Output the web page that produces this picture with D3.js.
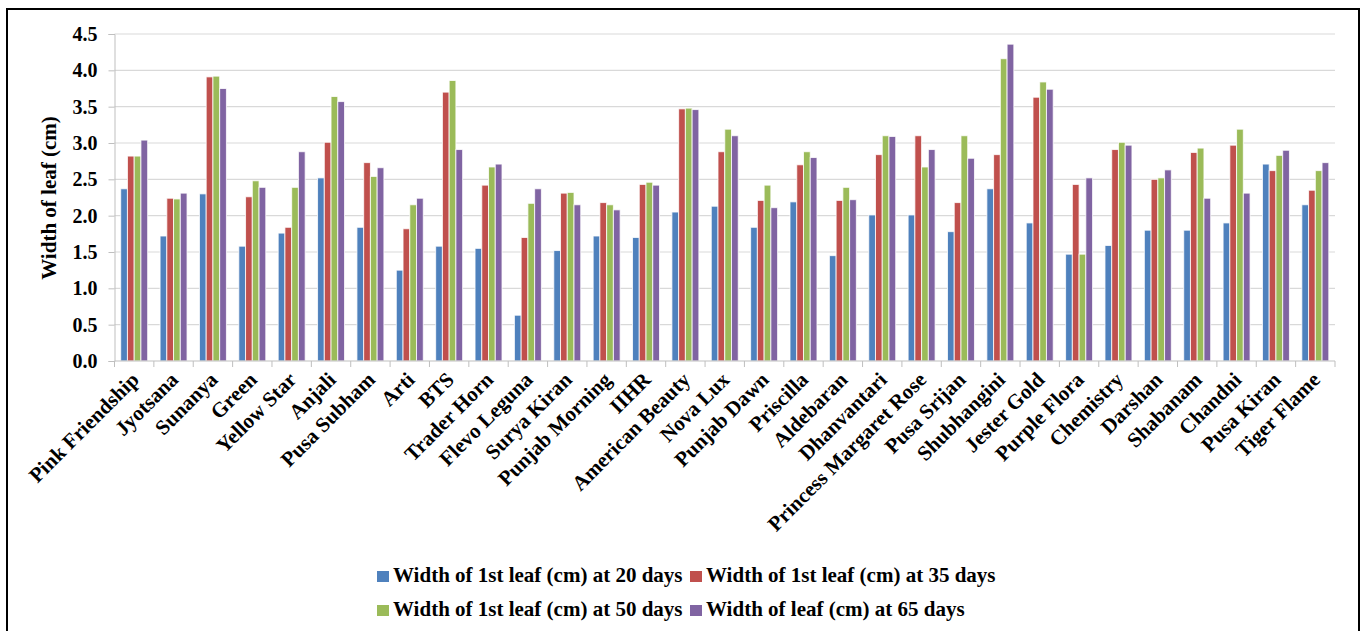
<!DOCTYPE html>
<html>
<head>
<meta charset="utf-8">
<script src="https://cdn.jsdelivr.net/npm/d3@7"></script>
<style>
  body { margin: 0; background: #fff; }
  text { font-family: "Liberation Serif", "Times New Roman", serif; font-weight: bold; fill: #000; }
</style>
</head>
<body>
<div id="chart"></div>
<script>
// Categories (rose varieties)
var varieties = ["Pink Friendship", "Jyotsana", "Sunanya", "Green", "Yellow Star", "Anjali",
    "Pusa Subham", "Arti", "BTS", "Trader Horn", "Flevo Leguna", "Surya Kiran", "Punjab Morning",
    "IIHR", "American Beauty", "Nova Lux", "Punjab Dawn", "Priscilla", "Aldebaran", "Dhanvantari",
    "Princess Margaret Rose", "Pusa Srijan", "Shubhangini", "Jester Gold", "Purple Flora",
    "Chemistry", "Darshan", "Shabanam", "Chandni", "Pusa Kiran", "Tiger Flame"];

var seriesNames = ["Width of 1st leaf (cm) at 20 days", "Width of 1st leaf (cm) at 35 days",
    "Width of 1st leaf (cm) at 50 days", "Width of leaf (cm) at 65 days"];

// Values
var days20 = [2.37, 1.72, 2.30, 1.58, 1.76, 2.52, 1.84, 1.25, 1.58, 1.55, 0.63, 1.52, 1.72,
    1.70, 2.05, 2.13, 1.84, 2.19, 1.45, 2.01, 2.01, 1.78, 2.37, 1.90, 1.47, 1.59, 1.80, 1.80,
    1.90, 2.71, 2.15];
var days35 = [2.82, 2.24, 3.91, 2.26, 1.84, 3.01, 2.73, 1.82, 3.70, 2.42, 1.70, 2.31, 2.18,
    2.43, 3.47, 2.88, 2.21, 2.70, 2.21, 2.84, 3.10, 2.18, 2.84, 3.63, 2.43, 2.91, 2.50, 2.87,
    2.97, 2.62, 2.35];
var days50 = [2.82, 2.23, 3.92, 2.48, 2.39, 3.64, 2.54, 2.15, 3.86, 2.67, 2.17, 2.32, 2.15,
    2.46, 3.48, 3.19, 2.42, 2.88, 2.39, 3.10, 2.67, 3.10, 4.16, 3.84, 1.47, 3.01, 2.52, 2.93,
    3.19, 2.83, 2.62];
var days65 = [3.04, 2.31, 3.75, 2.39, 2.88, 3.57, 2.66, 2.24, 2.91, 2.71, 2.37, 2.15, 2.08,
    2.42, 3.46, 3.10, 2.11, 2.80, 2.22, 3.09, 2.91, 2.79, 4.36, 3.74, 2.52, 2.97, 2.63, 2.24,
    2.31, 2.90, 2.73];

var yTicks = [0, 0.5, 1, 1.5, 2, 2.5, 3, 3.5, 4, 4.5];
var colors = ["#4F81BD", "#C0504D", "#9BBB59", "#8064A2"];

var allSeries = [days20, days35, days50, days65];

var svgWidth = 1362, svgHeight = 631;
var margin = { top: 34, right: 27, bottom: 270, left: 114.5 };
var chartWidth = svgWidth - margin.left - margin.right;
var chartHeight = svgHeight - margin.top - margin.bottom;

var svg = d3.select("#chart").append("svg")
    .attr("width", svgWidth)
    .attr("height", svgHeight);

// outer frame
svg.append("rect")
    .attr("x", 7).attr("y", 9)
    .attr("width", 1352).attr("height", 640)
    .attr("fill", "none")
    .attr("stroke", "#000")
    .attr("stroke-width", 2);

var chartGroup = svg.append("g")
    .attr("transform", `translate(${margin.left}, ${margin.top})`);

var x0 = d3.scaleBand().domain(varieties).range([0, chartWidth]).padding(0);
var x1 = d3.scaleBand().domain(d3.range(4))
    .range([6.2, x0.bandwidth() - 6.2]).padding(0);
var yScale = d3.scaleLinear().domain([0, 4.5]).range([chartHeight, 0]);

// gridlines
chartGroup.append("g")
    .selectAll("line")
    .data(yTicks.slice(1))
    .enter()
    .append("line")
    .attr("x1", 0).attr("x2", chartWidth)
    .attr("y1", d => yScale(d)).attr("y2", d => yScale(d))
    .attr("stroke", "#D9D9D9")
    .attr("stroke-width", 1.2);

// y axis
var yAxis = chartGroup.append("g")
    .attr("font-family", null)
    .call(d3.axisLeft(yScale).tickValues(yTicks).tickSize(6).tickPadding(11).tickFormat(d3.format(".1f")));
yAxis.attr("font-family", null);
yAxis.selectAll("path, line").attr("stroke", "#BFBFBF");
yAxis.selectAll("text").style("font-size", "20px");

// bars
var groups = chartGroup.append("g")
    .selectAll("g")
    .data(varieties)
    .enter()
    .append("g")
    .attr("transform", d => `translate(${x0(d)}, 0)`);

groups.selectAll("rect")
    .data((d, i) => allSeries.map((s, k) => ({ k: k, v: s[i] })))
    .enter()
    .append("rect")
    .attr("x", d => x1(d.k))
    .attr("y", d => yScale(d.v))
    .attr("width", x1.bandwidth())
    .attr("height", d => chartHeight - yScale(d.v))
    .attr("fill", d => colors[d.k])
    .attr("stroke", "#fff")
    .attr("stroke-opacity", 0.8)
    .attr("stroke-width", 1);

// x axis line with ticks at category boundaries
var xAxisG = chartGroup.append("g")
    .attr("transform", `translate(0, ${chartHeight})`);
xAxisG.append("line")
    .attr("x1", 0).attr("x2", chartWidth)
    .attr("stroke", "#BFBFBF").attr("stroke-width", 1.2);
xAxisG.selectAll(".tk")
    .data(varieties.concat(["end"]))
    .enter()
    .append("line")
    .attr("class", "tk")
    .attr("x1", (d, i) => i * x0.step()).attr("x2", (d, i) => i * x0.step())
    .attr("y1", 0).attr("y2", 6)
    .attr("stroke", "#BFBFBF");

xAxisG.selectAll("text")
    .data(varieties)
    .enter()
    .append("text")
    .attr("text-anchor", "end")
    .attr("transform", d => `translate(${x0(d) + x0.bandwidth() / 2 + 6}, 20) rotate(-45)`)
    .style("font-size", "21px")
    .text(d => d);

// y axis title
chartGroup.append("text")
    .attr("text-anchor", "middle")
    .attr("transform", "rotate(-90)")
    .attr("x", 0 - 164)
    .attr("y", 56 - margin.left)
    .style("font-size", "21px")
    .text("Width of leaf (cm)");

// legend
var legendPos = [[377, 571], [690, 571], [377, 605], [690, 605]];
var legend = svg.append("g")
    .selectAll("g")
    .data(seriesNames)
    .enter()
    .append("g")
    .attr("transform", (d, i) => `translate(${legendPos[i][0]}, ${legendPos[i][1]})`);
legend.append("rect")
    .attr("width", 12).attr("height", 11)
    .attr("fill", (d, i) => colors[i]);
legend.append("text")
    .attr("x", 16).attr("y", 11)
    .style("font-size", "21px")
    .text(d => d);
</script>
</body>
</html>
